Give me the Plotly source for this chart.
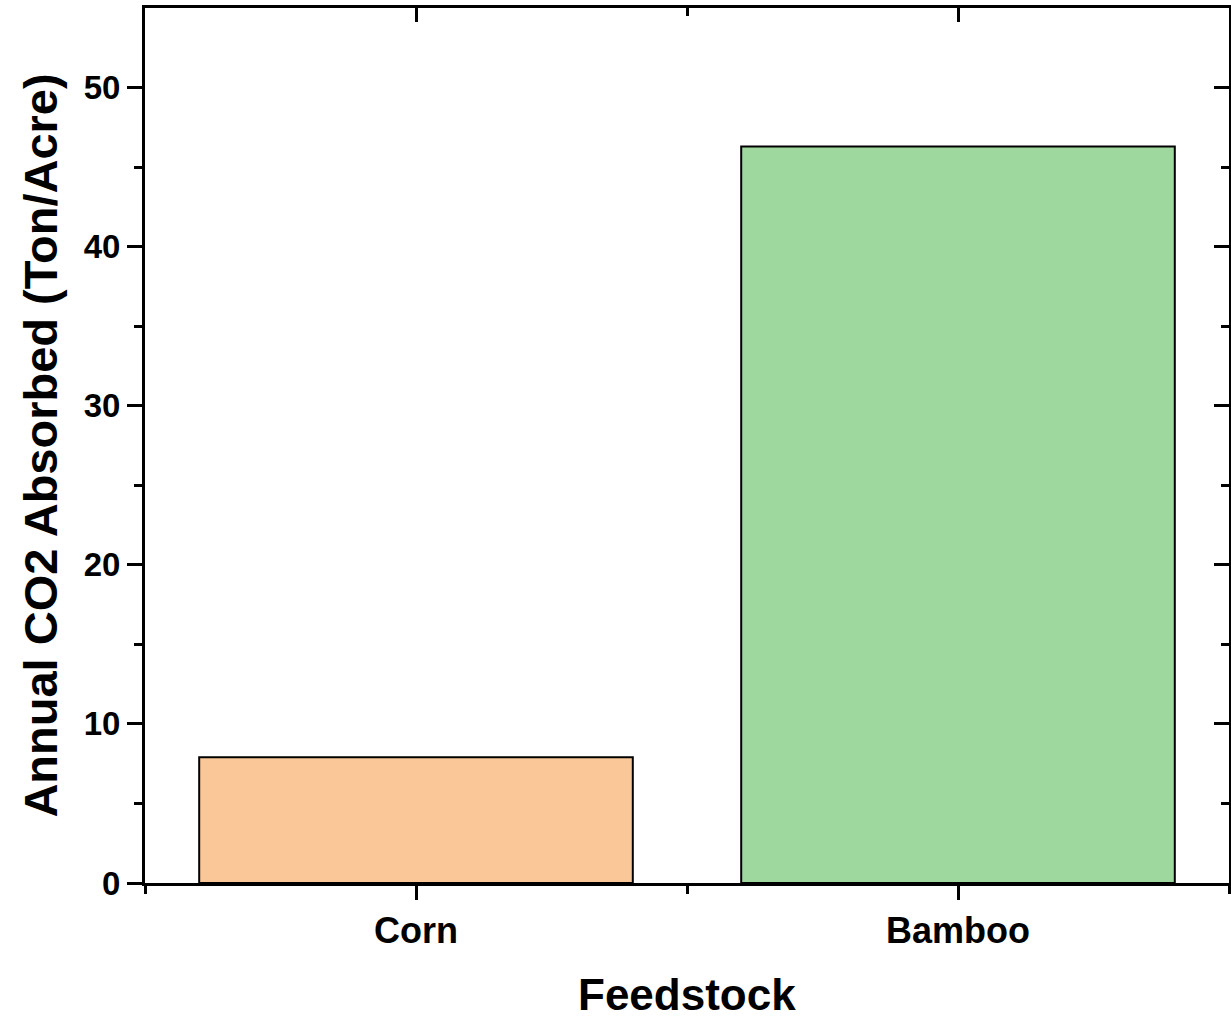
import plotly.graph_objects as go

categories = ["Corn", "Bamboo"]
values = [7.9, 46.3]
bar_colors = ["#FAC898", "#9ED89E"]
x_pos = [0, 1]
y_major = [0, 10, 20, 30, 40, 50]
y_minor = [5, 15, 25, 35, 45]
x_minor = [-0.5, 0.5, 1.5]

FONT = "Arial, Liberation Sans, sans-serif"

fig = go.Figure()
fig.add_trace(go.Bar(
    x=x_pos, y=values, width=0.8,
    marker=dict(color=bar_colors, line=dict(color="black", width=2)),
    showlegend=False, hoverinfo="skip",
))
# helper trace for mirrored top/right axes
fig.add_trace(go.Scatter(x=[0], y=[0], xaxis="x2", yaxis="y2", mode="markers",
                         marker=dict(size=0.1, opacity=0), showlegend=False, hoverinfo="skip"))

fig.update_layout(
    width=1231, height=1017,
    margin=dict(l=145, r=2, t=8, b=134),
    plot_bgcolor="white", paper_bgcolor="white",
    font=dict(family=FONT, color="black"),
    xaxis=dict(
        range=[-0.5, 1.5], tickvals=x_pos, ticktext=categories, automargin=False,
        ticks="outside", ticklen=14, tickwidth=3, tickcolor="black",
        minor=dict(tickvals=x_minor, ticks="outside", ticklen=8, tickwidth=3, tickcolor="black"),
        showline=True, linewidth=3, linecolor="black", showgrid=False, zeroline=False,
        tickfont=dict(family=FONT, size=36, color="black", weight="bold"),
    ),
    yaxis=dict(
        range=[0, 55], tickvals=y_major, automargin=False,
        ticks="outside", ticklen=15, tickwidth=3, tickcolor="black",
        minor=dict(tickvals=y_minor, ticks="outside", ticklen=8, tickwidth=3, tickcolor="black"),
        showline=True, linewidth=3, linecolor="black", showgrid=False, zeroline=False,
        tickfont=dict(family=FONT, size=33, color="black", weight="bold"),
        title=dict(text="<b>Annual CO2 Absorbed (Ton/Acre)</b>", font=dict(family=FONT, size=47, color="black"), standoff=12),
    ),
    xaxis2=dict(
        overlaying="x", side="top", range=[-0.5, 1.5], tickvals=x_pos, automargin=False,
        ticks="inside", ticklen=14, tickwidth=3, tickcolor="black",
        minor=dict(tickvals=x_minor, ticks="inside", ticklen=8, tickwidth=3, tickcolor="black"),
        showticklabels=False, showline=True, linewidth=3, linecolor="black",
        showgrid=False, zeroline=False,
    ),
    yaxis2=dict(
        overlaying="y", side="right", range=[0, 55], tickvals=y_major, automargin=False,
        ticks="inside", ticklen=15, tickwidth=3, tickcolor="black",
        minor=dict(tickvals=y_minor, ticks="inside", ticklen=8, tickwidth=3, tickcolor="black"),
        showticklabels=False, showline=True, linewidth=2, linecolor="black",
        showgrid=False, zeroline=False,
    ),
    annotations=[dict(
        text="<b>Feedstock</b>", xref="paper", yref="paper", x=0.5, y=-0.127,
        xanchor="center", yanchor="middle", showarrow=False,
        font=dict(family=FONT, size=44, color="black"),
    )],
)

fig.write_html(
    "out.html",
    config={"displayModeBar": False},
    post_script="document.body.style.margin='0';document.body.style.padding='0';document.body.style.overflow='hidden';",
)
